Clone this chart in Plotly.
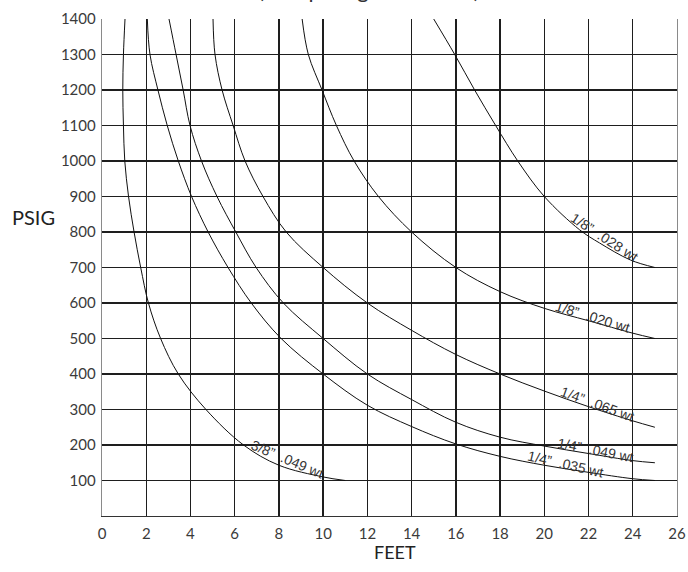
import plotly.graph_objects as go

# ---- data ----
x_38_049 = [1.04, 0.97, 0.94, 0.97, 1.03, 1.2, 1.45, 1.75, 2.1, 2.65, 3.45, 4.7, 6.4, 8, 10, 11]
y_38_049 = [1400, 1300, 1200, 1100, 1000, 900, 800, 700, 600, 500, 400, 300, 200, 143, 110, 100]

x_14_035 = [2.05, 2.17, 2.53, 2.95, 3.45, 4.05, 4.8, 5.7, 6.75, 8.1, 10.0, 12.0, 14, 16, 18, 20, 22, 24, 25]
y_14_035 = [1400, 1300, 1200, 1100, 1000, 900, 800, 700, 600, 500, 400, 312, 252, 203, 168, 143, 123, 105, 100]

x_14_049 = [3.03, 3.35, 3.67, 3.98, 4.5, 5.2, 6.05, 6.97, 8.2, 10, 12, 14, 16, 18, 20, 22, 24, 25]
y_14_049 = [1400, 1300, 1200, 1100, 1000, 900, 800, 700, 600, 500, 400, 328, 264, 222, 197, 176, 156, 150]

x_14_065 = [5.02, 5.11, 5.43, 5.93, 6.47, 7.28, 8.33, 10.0, 12.0, 14, 16, 18, 20, 22, 24, 25]
y_14_065 = [1400, 1300, 1200, 1100, 1000, 900, 800, 700, 600, 523, 455, 400, 352, 308, 268, 250]

x_18_020 = [9.05, 9.33, 9.95, 10.6, 11.4, 12.5, 14, 16, 18, 20, 22, 24, 25]
y_18_020 = [1400, 1300, 1200, 1100, 1000, 900, 800, 700, 632, 585, 550, 515, 500]

x_18_028 = [15.0, 15.95, 16.85, 17.8, 18.8, 20.0, 21.6, 22.5, 23.9, 25]
y_18_028 = [1400, 1300, 1200, 1100, 1000, 900, 806, 769, 721, 700]

curve_names = ['3/8" .049 wt', '1/4" .035 wt', '1/4" .049 wt', '1/4" .065 wt', '1/8" .020 wt', '1/8" .028 wt']
label_text = ['3/8”  .049 wt', '1/4”  .035 wt', '1/4”  .049 wt', '1/4”  .065 wt', '1/8”  .020 wt', '1/8”  .028 wt']
label_x = [8.37, 20.95, 22.3, 22.4, 22.2, 22.7]
label_y = [152, 138, 177, 307, 552, 777]
label_angle = [23, 13, 11, 20, 17, 33]

x_ticks = list(range(0, 27, 2))
y_ticks = list(range(100, 1401, 100))

title_text = "(Comparing Tube Sizes)"
x_title = "FEET"
y_title = "PSIG"

series = [
    (x_38_049, y_38_049), (x_14_035, y_14_035), (x_14_049, y_14_049),
    (x_14_065, y_14_065), (x_18_020, y_18_020), (x_18_028, y_18_028),
]

fig = go.Figure()
for (xs, ys), name in zip(series, curve_names):
    fig.add_trace(go.Scatter(
        x=xs, y=ys, mode="lines", name=name,
        line=dict(color="#111111", width=1, shape="spline", smoothing=1.0),
        hoverinfo="skip", showlegend=False,
    ))

for t, lx, ly, ang in zip(label_text, label_x, label_y, label_angle):
    fig.add_annotation(
        x=lx, y=ly, xref="x", yref="y", text=t, showarrow=False,
        textangle=ang, font=dict(family="Liberation Sans, Arial", size=14, color="#333333"),
        yshift=3,
    )

fig.add_annotation(
    x=0.464, y=1.028, xref="paper", yref="paper", text=title_text, showarrow=False,
    xanchor="center", yanchor="bottom",
    font=dict(family="Lato, sans-serif", size=22, color="#333333"),
)
fig.add_annotation(
    x=-0.12, y=842, xref="paper", yref="y", text=y_title, showarrow=False,
    xanchor="center", yanchor="middle",
    font=dict(family="Lato, sans-serif", size=20, color="#222222"),
)
fig.add_annotation(
    x=0.51, y=-0.072, xref="paper", yref="paper", text=x_title, showarrow=False,
    xanchor="center", yanchor="middle",
    font=dict(family="Lato, sans-serif", size=18, color="#222222"),
)

grid_col = "#1e1e1e"
fig.update_xaxes(
    range=[0, 26], tickvals=x_ticks, ticktext=[str(v) for v in x_ticks],
    showgrid=True, gridcolor=grid_col, gridwidth=1.3,
    showline=True, linecolor="#333333", linewidth=1.3, mirror=False,
    zeroline=False, ticks="", ticklabelstandoff=4, automargin=False,
    tickfont=dict(family="Lato, sans-serif", size=15, color="#3a3a3a"),
    fixedrange=True,
)
fig.update_yaxes(
    range=[0, 1400], tickvals=y_ticks, ticktext=[str(v) for v in y_ticks],
    showgrid=True, gridcolor=grid_col, gridwidth=1.3,
    showline=True, linecolor="#8a8a8a", linewidth=1.3, mirror=True,
    zeroline=False, ticks="", ticklabelstandoff=2, automargin=False,
    tickfont=dict(family="Lato, sans-serif", size=15, color="#3a3a3a"),
    fixedrange=True,
)

fig.update_layout(
    width=688, height=572,
    margin=dict(l=102, r=11, t=19, b=56),
    paper_bgcolor="white", plot_bgcolor="white",
    showlegend=False,
)

fig.write_html(
    "out.html",
    config={"displayModeBar": False, "staticPlot": True},
    post_script="document.body.style.margin='0';document.body.style.overflow='hidden';",
)
